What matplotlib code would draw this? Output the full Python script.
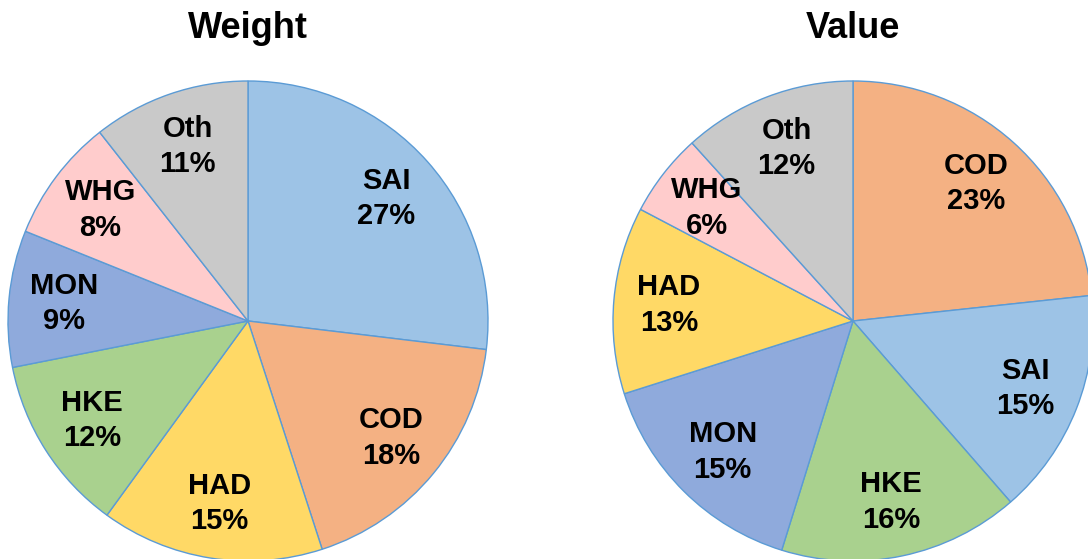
import matplotlib
matplotlib.use("Agg")
import matplotlib.pyplot as plt

# weight shares (%), clockwise from 12 o'clock
weight_labels = ["SAI", "COD", "HAD", "HKE", "MON", "WHG", "Oth"]
weight_values = [26.9, 18.1, 15.0, 11.9, 9.2, 8.3, 10.6]

# value shares (%), clockwise from 12 o'clock
value_labels = ["COD", "SAI", "HKE", "MON", "HAD", "WHG", "Oth"]
value_values = [23.3, 15.3, 16.2, 15.3, 12.6, 5.6, 11.7]

species_colors = {
    "SAI": "#9DC3E6",
    "COD": "#F4B183",
    "HAD": "#FFD966",
    "HKE": "#A9D18E",
    "MON": "#8FAADC",
    "WHG": "#FFCCCC",
    "Oth": "#C9C9C9",
}

plt.rcParams["font.family"] = ["Liberation Sans", "DejaVu Sans"]

W, H = 1088, 559
fig = plt.figure(figsize=(W / 100, H / 100), dpi=100)


def draw_pie(cx, cy, r, labels, values, title):
    # cx, cy in pixels from top-left
    ax = fig.add_axes([(cx - r) / W, (H - cy - r) / H, 2 * r / W, 2 * r / H])
    texts = [f"{l}\n{v:.0f}%" for l, v in zip(labels, values)]
    ax.pie(values, labels=texts, colors=[species_colors[l] for l in labels],
           startangle=90, counterclock=False, labeldistance=0.77,
           radius=1.0, frame=False,
           wedgeprops=dict(edgecolor="#5B9BD5", linewidth=1.0),
           textprops=dict(fontsize=21, fontweight="bold", ha="center",
                          va="center", linespacing=1.35))
    for t in ax.texts:
        t.set_horizontalalignment("center")
    ax.set_xlim(-1, 1)
    ax.set_ylim(-1, 1)
    ax.set_aspect("equal")
    ax.axis("off")
    fig.text(cx / W, 1 - 28 / H, title, ha="center", va="center",
             fontsize=26, fontweight="bold")


draw_pie(248, 321, 240, weight_labels, weight_values, "Weight")
draw_pie(853, 321, 240, value_labels, value_values, "Value")

fig.savefig("out.png", dpi=100)
